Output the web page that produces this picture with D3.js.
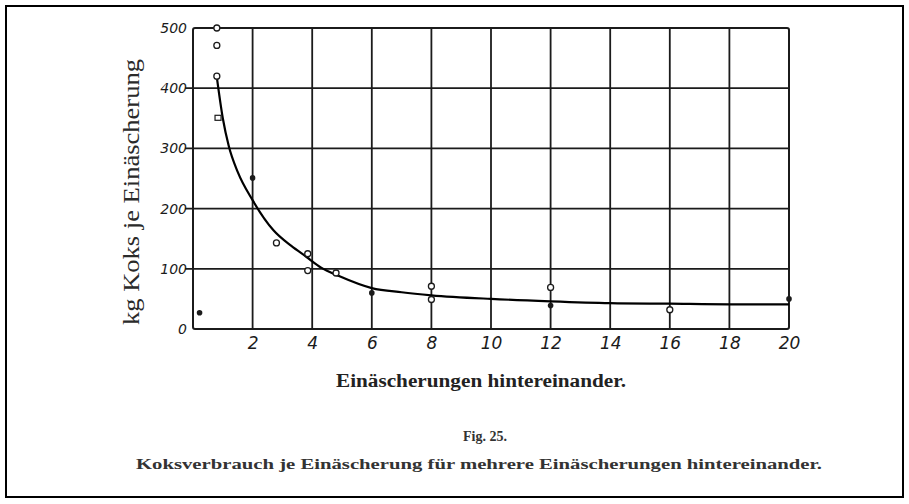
<!DOCTYPE html>
<html>
<head>
<meta charset="utf-8">
<script src="https://cdn.jsdelivr.net/npm/d3@7/dist/d3.min.js"></script>
<style>
  html, body { margin: 0; padding: 0; background: #fff; }
  svg { display: block; }
</style>
</head>
<body>
<svg id="chart" width="909" height="504"></svg>
<script>
// Koksverbrauch je Einäscherung (kg) über die Anzahl der Einäscherungen hintereinander
const xTicks = [2, 4, 6, 8, 10, 12, 14, 16, 18, 20];
const xTickLabels = ["2", "4", "6", "8", "10", "12", "14", "16", "18", "20"];
const yTicks = [0, 100, 200, 300, 400, 500];
const yTickLabels = ["0", "100", "200", "300", "400", "500"];

// measured values, open circles
const openX = [0.8, 0.8, 0.8, 2.8, 3.85, 3.85, 4.8, 8, 8, 12, 16];
const openY = [500, 471, 420, 143, 125, 97, 93, 71, 49, 69, 32];
// measured values, solid dots
const dotX = [0.22, 2, 6, 12, 20];
const dotY = [27, 251, 60, 39, 50];
// measured value, square
const squareX = [0.84];
const squareY = [350];

// drawn mean curve
const curveX = [0.8, 1.0, 1.2, 1.5, 2.0, 2.7, 3.3, 3.8, 4.3, 4.9, 6, 7, 8, 10, 12, 14, 16, 18, 20];
const curveY = [418, 350, 304, 261, 214, 164, 138, 120, 102, 88, 68, 61, 56, 50, 46, 43, 42, 41, 41];

const svg = d3.select("#chart");
const ink = "#1b1b1b";

// outer frame
svg.append("rect")
  .attr("x", 6).attr("y", 6).attr("width", 897).attr("height", 491)
  .attr("fill", "none").attr("stroke", "#000").attr("stroke-width", 2);

const x = d3.scaleLinear().domain([0, 20]).range([193, 789]);
const y = d3.scaleLinear().domain([0, 500]).range([329, 28]);

const g = svg.append("g");

// horizontal grid lines (with short ticks left of the axis)
g.selectAll("line.hgrid")
  .data(yTicks.filter(d => d > 0 && d < 500))
  .join("line")
  .attr("class", "hgrid")
  .attr("x1", x(0) - 8).attr("x2", x(20))
  .attr("y1", d => y(d)).attr("y2", d => y(d))
  .attr("stroke", ink).attr("stroke-width", 1.8);

// vertical grid lines
g.selectAll("line.vgrid")
  .data(xTicks.filter(d => d < 20))
  .join("line")
  .attr("class", "vgrid")
  .attr("x1", d => x(d)).attr("x2", d => x(d))
  .attr("y1", y(500)).attr("y2", y(0))
  .attr("stroke", ink).attr("stroke-width", 1.8);

// plot frame
g.append("rect")
  .attr("x", x(0)).attr("y", y(500))
  .attr("width", x(20) - x(0)).attr("height", y(0) - y(500))
  .attr("rx", 2)
  .attr("fill", "none").attr("stroke", ink).attr("stroke-width", 2);

// tick labels
const tickFont = "'DejaVu Sans', sans-serif";
const xAxis = d3.axisBottom(x).tickValues(xTicks)
  .tickFormat((d, i) => xTickLabels[i]).tickSize(0).tickPadding(8);
const xg = svg.append("g").attr("transform", `translate(0,${y(0)})`).call(xAxis);
xg.select(".domain").remove();
xg.selectAll("text")
  .attr("font-family", tickFont).attr("font-style", "italic")
  .attr("font-size", 17).attr("fill", ink);

const yAxis = d3.axisLeft(y).tickValues(yTicks)
  .tickFormat((d, i) => yTickLabels[i]).tickSize(0).tickPadding(6);
const yg = svg.append("g").attr("transform", `translate(${x(0)},0)`).call(yAxis);
yg.select(".domain").remove();
yg.selectAll("text")
  .attr("font-family", tickFont).attr("font-style", "italic")
  .attr("font-size", 14).attr("fill", ink);

// mean curve
const line = d3.line()
  .x((d, i) => x(curveX[i]))
  .y(d => y(d))
  .curve(d3.curveMonotoneX);
svg.append("path")
  .attr("d", line(curveY))
  .attr("fill", "none").attr("stroke", "#000").attr("stroke-width", 2.2);

// open circles
svg.selectAll("circle.open")
  .data(openY)
  .join("circle")
  .attr("class", "open")
  .attr("cx", (d, i) => x(openX[i])).attr("cy", d => y(d))
  .attr("r", 3).attr("fill", "#fff")
  .attr("stroke", ink).attr("stroke-width", 1.3);

// solid dots
svg.selectAll("circle.dot")
  .data(dotY)
  .join("circle")
  .attr("class", "dot")
  .attr("cx", (d, i) => x(dotX[i])).attr("cy", d => y(d))
  .attr("r", 2.8).attr("fill", ink);

// square marker
svg.selectAll("rect.sq")
  .data(squareY)
  .join("rect")
  .attr("class", "sq")
  .attr("x", (d, i) => x(squareX[i]) - 3).attr("y", d => y(d) - 3)
  .attr("width", 6).attr("height", 5)
  .attr("fill", "#fff").attr("stroke", ink).attr("stroke-width", 1.2);

// axis titles and caption
const serif = "'Liberation Serif', 'DejaVu Serif', serif";
svg.append("text")
  .attr("transform", "translate(139,192) rotate(-90)")
  .attr("text-anchor", "middle")
  .attr("font-family", serif).attr("font-size", 23)
  .attr("fill", "#2a2a2a")
  .attr("textLength", 266).attr("lengthAdjust", "spacingAndGlyphs")
  .text("kg Koks je Einäscherung");

svg.append("text")
  .attr("x", 481).attr("y", 387)
  .attr("text-anchor", "middle")
  .attr("font-family", serif).attr("font-size", 18).attr("font-weight", "bold")
  .attr("fill", "#222")
  .attr("textLength", 290).attr("lengthAdjust", "spacingAndGlyphs")
  .text("Einäscherungen hintereinander.");

svg.append("text")
  .attr("x", 485).attr("y", 441)
  .attr("text-anchor", "middle")
  .attr("font-family", serif).attr("font-size", 14).attr("font-weight", "bold")
  .attr("fill", "#333")
  .text("Fig. 25.");

svg.append("text")
  .attr("x", 479).attr("y", 469)
  .attr("text-anchor", "middle")
  .attr("font-family", serif).attr("font-size", 14).attr("font-weight", "bold")
  .attr("fill", "#333")
  .attr("textLength", 686).attr("lengthAdjust", "spacingAndGlyphs")
  .text("Koksverbrauch je Einäscherung für mehrere Einäscherungen hintereinander.");
</script>
</body>
</html>
